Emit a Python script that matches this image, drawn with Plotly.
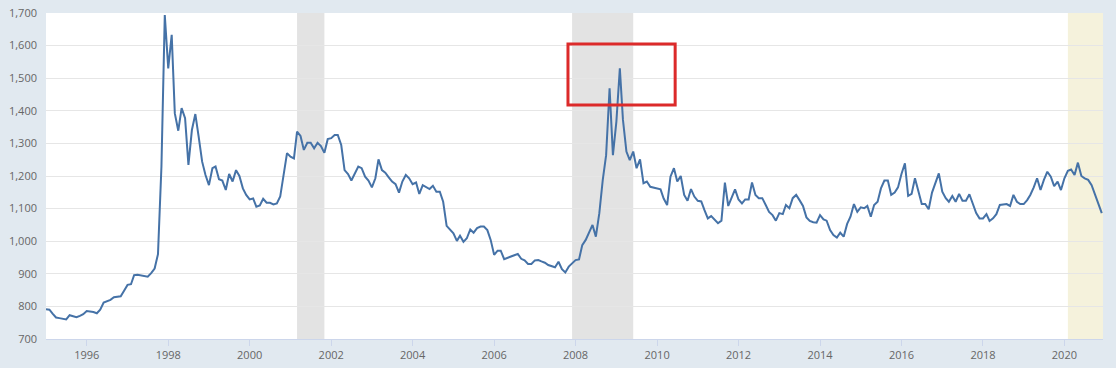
import plotly.graph_objects as go
import pandas as pd

# Monthly values (Korean won per US dollar)
y1995 = [791, 790, 778, 766, 764, 762, 760, 773, 770, 767, 771, 776]
y1996 = [786, 785, 783, 779, 790, 812, 816, 820, 828, 830, 831, 848]
y1997 = [866, 868, 896, 897, 895, 893, 891, 902, 916, 960, 1229, 1694]
y1998 = [1530, 1633, 1392, 1339, 1408, 1377, 1234, 1341, 1390, 1320, 1244, 1203]
y1999 = [1172, 1224, 1229, 1190, 1186, 1157, 1206, 1183, 1218, 1200, 1162, 1142]
y2000 = [1128, 1131, 1106, 1110, 1130, 1118, 1118, 1113, 1116, 1137, 1208, 1270]
y2001 = [1259, 1254, 1336, 1323, 1280, 1302, 1302, 1285, 1302, 1292, 1271, 1313]
y2002 = [1316, 1326, 1326, 1295, 1218, 1206, 1186, 1206, 1229, 1224, 1198, 1186]
y2003 = [1165, 1193, 1251, 1218, 1210, 1196, 1183, 1175, 1149, 1183, 1203, 1193]
y2004 = [1175, 1180, 1145, 1172, 1165, 1160, 1170, 1152, 1152, 1121, 1047, 1034]
y2005 = [1024, 1001, 1017, 998, 1009, 1036, 1026, 1040, 1045, 1045, 1034, 1004]
y2006 = [958, 971, 971, 945, 948, 953, 957, 961, 946, 941, 930, 930]
y2007 = [941, 942, 938, 934, 927, 924, 920, 937, 914, 904, 922, 932]
y2008 = [942, 944, 988, 1004, 1029, 1050, 1014, 1086, 1188, 1264, 1469, 1264]
y2009 = [1367, 1530, 1372, 1275, 1249, 1275, 1224, 1251, 1178, 1183, 1167, 1164]
y2010 = [1162, 1159, 1131, 1111, 1198, 1224, 1183, 1200, 1142, 1124, 1160, 1137]
y2011 = [1124, 1122, 1096, 1070, 1077, 1067, 1055, 1063, 1180, 1108, 1137, 1159]
y2012 = [1128, 1116, 1128, 1128, 1180, 1142, 1132, 1132, 1111, 1090, 1080, 1063]
y2013 = [1086, 1083, 1111, 1101, 1132, 1142, 1126, 1108, 1073, 1062, 1058, 1057]
y2014 = [1080, 1067, 1063, 1034, 1019, 1011, 1026, 1014, 1053, 1075, 1114, 1090]
y2015 = [1104, 1101, 1108, 1075, 1111, 1121, 1162, 1186, 1186, 1142, 1149, 1165]
y2016 = [1206, 1239, 1139, 1145, 1193, 1157, 1114, 1114, 1098, 1149, 1180, 1208]
y2017 = [1152, 1132, 1121, 1139, 1121, 1145, 1124, 1124, 1144, 1116, 1086, 1070]
y2018 = [1070, 1083, 1062, 1070, 1083, 1111, 1113, 1114, 1108, 1142, 1121, 1114]
y2019 = [1114, 1126, 1142, 1165, 1193, 1157, 1188, 1213, 1198, 1169, 1183, 1157]
y2020 = [1193, 1216, 1220, 1203, 1241, 1200, 1193, 1188, 1172, 1142, 1114, 1086]

yearly = [y1995, y1996, y1997, y1998, y1999, y2000, y2001, y2002, y2003,
          y2004, y2005, y2006, y2007, y2008, y2009, y2010, y2011, y2012,
          y2013, y2014, y2015, y2016, y2017, y2018, y2019, y2020]
values = [v for yr in yearly for v in yr]
dates = pd.date_range("1995-01-01", periods=len(values), freq="MS")

# Shaded periods
recession_starts = ["2001-03-01", "2007-12-01"]
recession_ends = ["2001-11-01", "2009-06-01"]
recent_start = "2020-02-01"
x_end = "2020-12-12"

# Highlight box (date range, value range)
box_x = ["2007-10-25", "2010-06-12"]
box_y = [1418, 1605]

fig = go.Figure()

for s, e in zip(recession_starts, recession_ends):
    fig.add_shape(type="rect", xref="x", yref="paper", x0=s, x1=e, y0=0, y1=1,
                  fillcolor="#e3e3e3", line=dict(width=0), layer="below")
fig.add_shape(type="rect", xref="x", yref="paper", x0=recent_start, x1=x_end,
              y0=0, y1=1, fillcolor="#f5f2dc", line=dict(width=0), layer="below")

fig.add_trace(go.Scatter(x=dates, y=values, mode="lines",
                         line=dict(color="#4572a7", width=2),
                         hoverinfo="x+y", showlegend=False))

fig.add_shape(type="rect", xref="x", yref="y", x0=box_x[0], x1=box_x[1],
              y0=box_y[0], y1=box_y[1], line=dict(color="#dc2a2a", width=3),
              fillcolor="rgba(0,0,0,0)", layer="above")

fig.update_layout(
    width=1116, height=368,
    margin=dict(l=46, r=13, t=13, b=29, autoexpand=False),
    paper_bgcolor="#e1e9f0",
    plot_bgcolor="#ffffff",
    font=dict(family="Open Sans, Arial, sans-serif", size=11, color="#666666"),
    showlegend=False,
)
fig.update_xaxes(
    type="date", range=["1995-01-01", x_end], automargin=False,
    tick0="1996-01-01", dtick="M24", tickformat="%Y",
    showgrid=False, showline=True, linecolor="#ccd6eb", linewidth=1,
    ticks="outside", ticklen=6, tickcolor="#ccd6eb", tickwidth=1,
    zeroline=False,
)
fig.update_yaxes(
    range=[700, 1700], dtick=100, tickformat=",", automargin=False,
    showgrid=True, gridcolor="#e6e6e6", gridwidth=1,
    showline=False, zeroline=False, ticks="", ticklabelstandoff=8,
)

fig.write_html(
    "out.html",
    config={"displayModeBar": False},
    post_script="document.body.style.margin='0';document.body.style.background='#e1e9f0';",
)
